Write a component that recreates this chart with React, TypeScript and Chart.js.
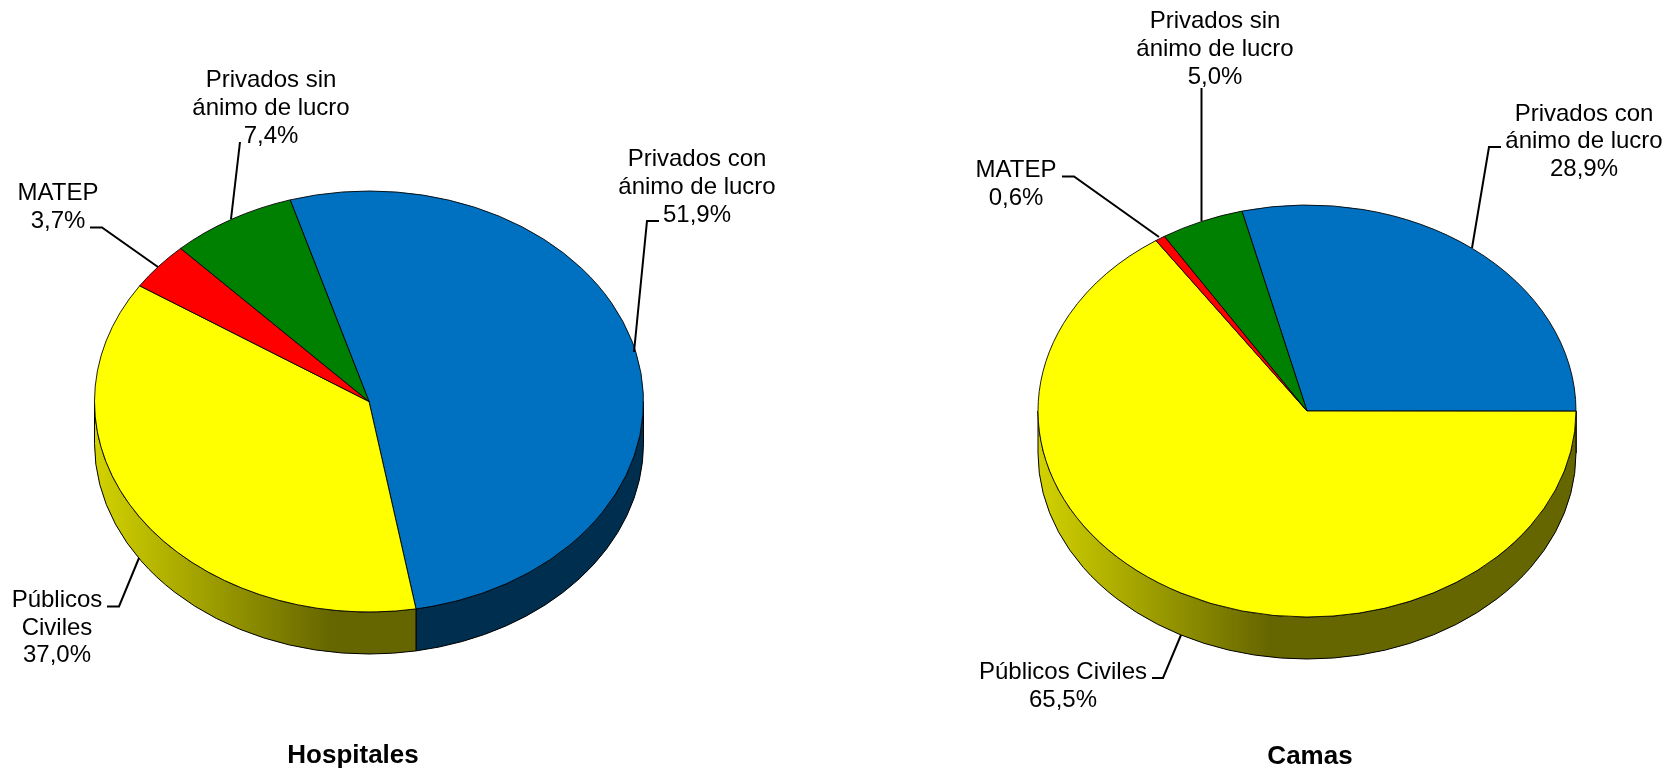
import React, { useEffect, useRef } from "react";
import { Chart, registerables } from "chart.js";

Chart.register(...registerables);

// ---- data ----
const categories = ["Privados con ánimo de lucro", "Públicos Civiles", "MATEP", "Privados sin ánimo de lucro"];
const hospitalesValues = [51.9, 37.0, 3.7, 7.4];
const camasValues = [28.9, 65.5, 0.6, 5.0];
const sliceColors = ["#0070C0", "#FFFF00", "#FF0000", "#008000"];

const hospitalesTitle = "Hospitales";
const camasTitle = "Camas";

const hospitalesLabels = [
  ["Privados con", "ánimo de lucro", "51,9%"],
  ["Públicos", "Civiles", "37,0%"],
  ["MATEP", "3,7%"],
  ["Privados sin", "ánimo de lucro", "7,4%"],
];
const camasLabels = [
  ["Privados con", "ánimo de lucro", "28,9%"],
  ["Públicos Civiles", "65,5%"],
  ["MATEP", "0,6%"],
  ["Privados sin", "ánimo de lucro", "5,0%"],
];

// ---- layout (page pixels) ----
const WIDTH = 1676;
const HEIGHT = 771;
const FONT = "'Liberation Sans', Arial, sans-serif";
const LABEL_FONT = `24px ${FONT}`;
const TITLE_FONT = `bold 26px ${FONT}`;

type Layout = {
  left: number;
  width: number;
  cx: number;
  cy: number;
  rx: number;
  ry: number;
  depth: number;
  rotation: number;
  title: { x: number; y: number };
  labelPos: { x: number; ys: number[] }[];
  leaders: number[][][];
};

const hospitalesLayout: Layout = {
  left: 0,
  width: 838,
  cx: 369,
  cy: 401.5,
  rx: 274.5,
  ry: 210.5,
  depth: 42,
  rotation: -16.7,
  title: { x: 353, y: 763 },
  labelPos: [
    { x: 697, ys: [166, 194, 222] },
    { x: 57, ys: [607, 635, 662] },
    { x: 58, ys: [200, 228] },
    { x: 271, ys: [87, 115, 143] },
  ],
  leaders: [
    [[659, 221], [647, 221], [634, 352]],
    [[107, 606.5], [119, 606.5], [139, 558]],
    [[90, 227.5], [102, 227.5], [158, 267]],
    [[240, 142], [231, 219]],
  ],
};

const camasLayout: Layout = {
  left: 838,
  width: 838,
  cx: 1307,
  cy: 411,
  rx: 269,
  ry: 206,
  depth: 42,
  rotation: -14,
  title: { x: 1310, y: 764 },
  labelPos: [
    { x: 1584, ys: [121, 148, 176] },
    { x: 1063, ys: [679, 707] },
    { x: 1016, ys: [177, 205] },
    { x: 1215, ys: [28, 56, 84] },
  ],
  leaders: [
    [[1501, 147], [1489, 147], [1472, 248]],
    [[1152, 678], [1163, 678], [1181, 635]],
    [[1062, 176.5], [1074, 176.5], [1159, 237]],
    [[1201.5, 88], [1201.5, 221]],
  ],
};

function wallFill(ctx: CanvasRenderingContext2D, index: number, cx: number, rx: number) {
  if (index === 1) {
    const g = ctx.createLinearGradient(cx - rx, 0, cx + rx, 0);
    g.addColorStop(0, "#D2D200");
    g.addColorStop(0.43, "#666600");
    g.addColorStop(1, "#666600");
    return g;
  }
  return index === 0 ? "#002E4E" : index === 2 ? "#800000" : "#004000";
}

function makePlugin(layout: Layout, title: string, labels: string[][]) {
  return {
    id: "pie3d",
    beforeDatasetsDraw(chart: any) {
      const ctx: CanvasRenderingContext2D = chart.ctx;
      const cx = layout.cx - layout.left;
      const { cy, rx, ry, depth } = layout;
      chart.getDatasetMeta(0).data.forEach((arc: any, i: number) => {
        const a0 = Math.max(arc.startAngle, 0);
        const a1 = Math.min(arc.endAngle, Math.PI);
        if (a1 <= a0) return;
        ctx.save();
        ctx.beginPath();
        ctx.ellipse(cx, cy, rx, ry, 0, a0, a1);
        ctx.ellipse(cx, cy + depth, rx, ry, 0, a1, a0, true);
        ctx.closePath();
        ctx.fillStyle = wallFill(ctx, i, cx, rx) as any;
        ctx.fill();
        ctx.lineWidth = 1;
        ctx.strokeStyle = "#000";
        ctx.stroke();
        ctx.restore();
      });
      ctx.save();
      ctx.translate(cx, cy);
      ctx.scale(1, ry / rx);
      ctx.translate(-cx, -cy);
    },
    afterDatasetsDraw(chart: any) {
      const ctx: CanvasRenderingContext2D = chart.ctx;
      ctx.restore();
      ctx.save();
      ctx.translate(-layout.left, 0);
      ctx.strokeStyle = "#000";
      ctx.lineWidth = 2;
      layout.leaders.forEach((pts) => {
        ctx.beginPath();
        pts.forEach(([x, y], k) => (k ? ctx.lineTo(x, y) : ctx.moveTo(x, y)));
        ctx.stroke();
      });
      ctx.fillStyle = "#000";
      ctx.textAlign = "center";
      ctx.textBaseline = "alphabetic";
      ctx.font = LABEL_FONT;
      labels.forEach((lines, i) => {
        const p = layout.labelPos[i];
        lines.forEach((line, k) => ctx.fillText(line, p.x, p.ys[k]));
      });
      ctx.font = TITLE_FONT;
      ctx.fillText(title, layout.title.x, layout.title.y);
      ctx.restore();
    },
  };
}

function PieChart({ layout, values, title, labels }: { layout: Layout; values: number[]; title: string; labels: string[][] }) {
  const ref = useRef<HTMLCanvasElement | null>(null);
  useEffect(() => {
    const cx = layout.cx - layout.left;
    const r = layout.rx + 1;
    const chart = new Chart(ref.current as HTMLCanvasElement, {
      type: "pie",
      data: {
        labels: categories,
        datasets: [
          {
            data: values,
            backgroundColor: sliceColors,
            borderColor: "#000",
            borderWidth: 1,
            radius: layout.rx,
          } as any,
        ],
      },
      options: {
        responsive: false,
        animation: false,
        events: [],
        rotation: layout.rotation,
        layout: {
          padding: {
            left: cx - r,
            right: layout.width - cx - r,
            top: layout.cy - r,
            bottom: HEIGHT - layout.cy - r,
          },
        },
        plugins: { legend: { display: false }, tooltip: { enabled: false }, title: { display: false } },
      },
      plugins: [makePlugin(layout, title, labels)],
    } as any);
    return () => chart.destroy();
  }, []);
  return (
    <canvas
      ref={ref}
      width={layout.width}
      height={HEIGHT}
      style={{ position: "absolute", left: layout.left, top: 0, width: layout.width, height: HEIGHT, display: "block" }}
    />
  );
}

export default function App() {
  return (
    <div style={{ position: "absolute", left: 0, top: 0, width: WIDTH, height: HEIGHT, overflow: "hidden", background: "#fff" }}>
      <PieChart layout={hospitalesLayout} values={hospitalesValues} title={hospitalesTitle} labels={hospitalesLabels} />
      <PieChart layout={camasLayout} values={camasValues} title={camasTitle} labels={camasLabels} />
    </div>
  );
}
